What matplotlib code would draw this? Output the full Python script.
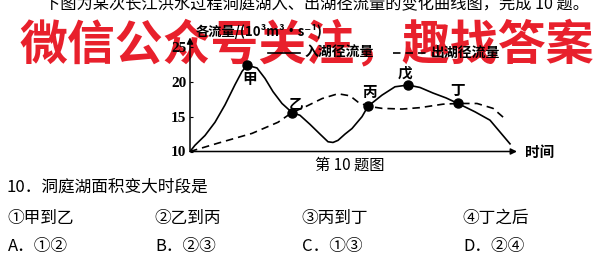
import matplotlib
matplotlib.use("Agg")
import matplotlib.pyplot as plt

plt.rcParams['font.family'] = ['Noto Sans CJK SC', 'DejaVu Sans']

W, H = 606, 268

# ---- data (time in arbitrary units, flow in 10^3 m^3/s) ----
inflow_t = [0.0, 0.5, 1.5, 2.5, 3.5, 4.5, 5.2, 5.7, 6.7, 7.5, 8.3, 9.2, 10.2,
            11.0, 12.0, 13.0, 13.8, 14.3, 14.8, 15.5, 16.2, 17.2, 17.8, 18.5,
            19.2, 20.5, 21.8, 23.0, 24.3, 25.6, 26.8, 28.5, 30.0, 31.0, 32.0]
inflow_v = [10.0, 10.9, 12.3, 14.2, 16.7, 19.6, 21.5, 22.4, 22.0, 20.5, 18.6, 16.9, 15.6,
            15.2, 13.9, 12.5, 11.4, 11.3, 11.6, 12.5, 13.3, 15.0, 16.5, 17.3,
            18.1, 19.3, 19.55, 19.2, 18.4, 17.7, 16.9, 15.7, 14.5, 12.8, 11.1]

outflow_t = [0.0, 2.8, 6.2, 8.8, 10.2, 11.5, 13.2, 14.8, 16.0, 16.8, 17.8, 19.2,
             21.2, 23.0, 25.3, 26.8, 28.7, 30.3, 31.5]
outflow_v = [10.0, 11.2, 12.6, 14.2, 15.6, 16.4, 17.6, 18.3, 18.0, 17.1, 16.5, 16.2,
             16.1, 16.3, 16.8, 16.9, 16.9, 16.2, 14.7]

point_names = ['甲', '乙', '丙', '戊', '丁']
point_t = [5.7, 10.2, 17.8, 21.8, 26.8]
point_v = [22.4, 15.6, 16.5, 19.55, 16.9]

y_ticks = [10, 15, 20, 25]
y_tick_labels = ['10', '15', '20', '25']

fig = plt.figure(figsize=(W / 100, H / 100), dpi=100)
fig.patch.set_facecolor('white')

def P(x, y):
    return x / W, 1 - y / H

# axes: x px 190..520 -> t 0..33 ; y px 151.5 (v=10) .. 36.7 (v=26.5)
ax_left, ax_right = 190, 520
y10_px, px_per_unit = 151.5, 6.96
ymax = 26.5
ax_top = y10_px - (ymax - 10) * px_per_unit
ax = fig.add_axes([ax_left / W, (H - y10_px) / H, (ax_right - ax_left) / W,
                   (y10_px - ax_top) / H])
ax.set_zorder(2)
ax.set_xlim(0, 33.0)
ax.set_ylim(10, ymax)
ax.patch.set_alpha(0)
for s in ax.spines.values():
    s.set_visible(False)
ax.set_xticks([])
ax.set_yticks(y_ticks)
ax.set_yticklabels(y_tick_labels, family=['Liberation Serif'], fontweight='bold', fontsize=11)
ax.tick_params(axis='y', direction='in', length=2.5, width=0.8, pad=2.5)

# axes arrows
ax.annotate('', xy=(32.7, 10), xytext=(0, 10), annotation_clip=False,
            arrowprops=dict(arrowstyle='-|>', color='black', lw=1.1,
                            mutation_scale=9, shrinkA=0, shrinkB=0))
ax.annotate('', xy=(0, 26.4), xytext=(0, 10), annotation_clip=False,
            arrowprops=dict(arrowstyle='-|>', color='black', lw=1.1,
                            mutation_scale=9, shrinkA=0, shrinkB=0))

ax.plot(inflow_t, inflow_v, color='black', lw=1.2, solid_joinstyle='round', zorder=3)
ax.plot(outflow_t, outflow_v, color='black', lw=1.2, dashes=(4.5, 3.0), zorder=3)
ax.plot(point_t, point_v, 'o', color='black', ms=6.5, zorder=4)

offsets = {'甲': (2, -10), '乙': (3, 7), '丙': (1, 10), '戊': (-2, 9), '丁': (0, 10)}
for n, t, v in zip(point_names, point_t, point_v):
    ax.annotate(n, (t, v), xytext=offsets[n], textcoords='offset points',
                ha='center', va='center', fontsize=10.5, fontweight='bold', zorder=5)

# axis labels
fig.text(*P(525, 152), '时间', fontsize=10.5, fontweight='bold', ha='left', va='center', zorder=5)
fig.text(*P(196, 31), '各流量/(10³m³·s⁻¹)', fontsize=9.5, fontweight='bold',
         ha='left', va='center', family=['Noto Sans CJK SC', 'DejaVu Sans'], zorder=5)

# legend
fig.add_artist(plt.Line2D([268 / W, 300 / W], [1 - 53 / H] * 2, color='black', lw=1.2, zorder=5))
fig.text(*P(305, 53), '入湖径流量', fontsize=10, fontweight='bold', ha='left', va='center', zorder=5)
fig.add_artist(plt.Line2D([393 / W, 428 / W], [1 - 53 / H] * 2, color='black', lw=1.2,
                          dashes=(4.5, 3.0), zorder=5))
fig.text(*P(431, 53), '出湖径流量', fontsize=10, fontweight='bold', ha='left', va='center', zorder=5)

# caption and question texts
fig.text(*P(44, 5), '下图为某次长江洪水过程洞庭湖入、出湖径流量的变化曲线图，完成 10 题。',
         fontsize=11.7, ha='left', va='center', zorder=5)
fig.text(*P(315, 165), '第 10 题图', fontsize=11, ha='left', va='center')
fig.text(*P(7, 187), '10．洞庭湖面积变大时段是', fontsize=12, ha='left', va='center')
opts = ['①甲到乙', '②乙到丙', '③丙到丁', '④丁之后']
opt_x = [7, 154, 301, 462]
for s, x in zip(opts, opt_x):
    fig.text(*P(x, 218), s, fontsize=12, ha='left', va='center')
ans = ['A．①②', 'B．②③', 'C．①③', 'D．②④']
for s, x in zip(ans, opt_x):
    fig.text(*P(x + 1, 246), s, fontsize=12, ha='left', va='center')

# watermark (drawn beneath the black print, as in the scan)
fig.text(*P(20, 45), '微信公众号关注，趣找答案', fontsize=34.5, fontweight='bold',
         color='#e8202c', ha='left', va='center', zorder=1)

fig.savefig('out.png', dpi=100)
